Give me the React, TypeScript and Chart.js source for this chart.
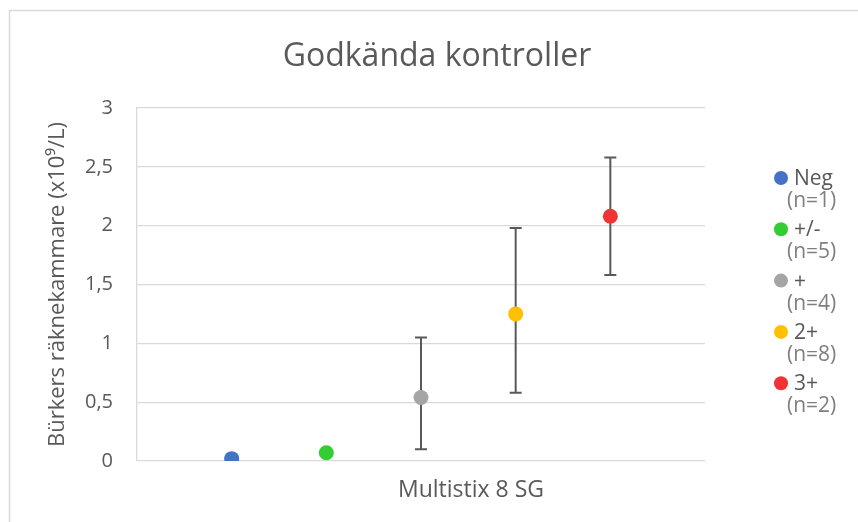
import React, { useEffect, useRef } from "react";
import { Chart, registerables } from "chart.js";

Chart.register(...registerables);

const categories = ["Neg", "+/-", "+", "2+", "3+"];
const counts = [1, 5, 4, 8, 2];
const means = [0.02, 0.07, 0.54, 1.25, 2.08];
const errLow: (number | null)[] = [null, null, 0.1, 0.58, 1.58];
const errHigh: (number | null)[] = [null, null, 1.05, 1.98, 2.58];
const colors = ["#4472C4", "#33CC33", "#A5A5A5", "#FFC000", "#F23333"];
const yTicks = [0, 0.5, 1, 1.5, 2, 2.5, 3];
const titleText = "Godkända kontroller";
const xTitle = "Multistix 8 SG";
const yTitle = "Bürkers räknekammare (x10⁹/L)";

const FONT = "'Open Sans', 'Noto Sans', sans-serif";

const extras = {
  id: "extras",
  beforeDatasetsDraw(chart: any) {
    const ctx = chart.ctx;
    const y = chart.scales.y;
    const x = chart.scales.x;
    ctx.save();
    ctx.strokeStyle = "#595959";
    ctx.lineWidth = 2;
    categories.forEach((_, i) => {
      const lo = errLow[i];
      const hi = errHigh[i];
      if (lo == null || hi == null) return;
      const px = x.getPixelForValue(i + 1);
      const pl = y.getPixelForValue(lo);
      const ph = y.getPixelForValue(hi);
      ctx.beginPath();
      ctx.moveTo(px, pl);
      ctx.lineTo(px, ph);
      ctx.moveTo(px - 6, pl);
      ctx.lineTo(px + 6, pl);
      ctx.moveTo(px - 6, ph);
      ctx.lineTo(px + 6, ph);
      ctx.stroke();
    });
    ctx.restore();
  },
  afterDraw(chart: any) {
    const ctx = chart.ctx;
    const area = chart.chartArea;
    ctx.save();
    // outer border
    ctx.strokeStyle = "#D9D9D9";
    ctx.lineWidth = 1.5;
    ctx.strokeRect(9.5, 10.5, chart.width + 20, chart.height + 20);
    // title
    ctx.fillStyle = "#595959";
    ctx.font = `32px ${FONT}`;
    ctx.textAlign = "center";
    ctx.textBaseline = "alphabetic";
    ctx.fillText(titleText, 437, 66);
    // x title
    ctx.font = `23px ${FONT}`;
    ctx.fillText(xTitle, 471, area.bottom + 36);
    // legend
    const lx = area.right + 76;
    categories.forEach((c, i) => {
      const cy = 178 + i * 51.3;
      ctx.fillStyle = colors[i];
      ctx.beginPath();
      ctx.arc(lx, cy, 7, 0, Math.PI * 2);
      ctx.fill();
      ctx.textAlign = "left";
      ctx.textBaseline = "middle";
      ctx.font = `21px ${FONT}`;
      ctx.fillStyle = "#595959";
      ctx.fillText(c, lx + 13, cy + 1);
      ctx.fillStyle = "#7F7F7F";
      ctx.fillText(`(n=${counts[i]})`, lx + 6, cy + 23);
    });
    ctx.restore();
  },
};

export default function App() {
  const ref = useRef<HTMLCanvasElement>(null);
  useEffect(() => {
    if (!ref.current) return;
    const chart = new Chart(ref.current, {
      type: "scatter",
      data: {
        datasets: categories.map((c, i) => ({
          label: c,
          data: [{ x: i + 1, y: means[i] }],
          backgroundColor: colors[i],
          borderColor: colors[i],
          pointRadius: 7.5,
          pointHoverRadius: 7.5,
          borderWidth: 0,
        })),
      },
      plugins: [extras],
      options: {
        animation: false,
        responsive: false,
        maintainAspectRatio: false,
        layout: { padding: { left: 8, top: 108, right: 153, bottom: 61 } },
        plugins: {
          legend: { display: false },
          title: { display: false },
          tooltip: { enabled: false },
        },
        scales: {
          x: {
            type: "linear",
            min: 0,
            max: 6,
            display: false,
          },
          y: {
            min: 0,
            max: 3,
            afterFit: (s: any) => {
              s.width = 129;
            },
            afterBuildTicks: (s: any) => {
              s.ticks = yTicks.map((v) => ({ value: v }));
            },
            ticks: {
              padding: 24,
              color: "#595959",
              font: { family: FONT, size: 20 },
              callback: (v: any) => String(v).replace(".", ","),
            },
            grid: { color: "#D9D9D9", lineWidth: 1.3, drawTicks: false },
            border: { display: true, color: "#D9D9D9", width: 1.3 },
            title: {
              display: true,
              text: yTitle,
              color: "#595959",
              font: { family: FONT, size: 22 },
              padding: { top: 37, bottom: 0 },
            },
          },
        },
      },
    });
    return () => chart.destroy();
  }, []);
  return (
    <div style={{ position: "fixed", left: 0, top: 0, width: 858, height: 522, background: "#fff" }}>
      <canvas ref={ref} width={858} height={522} style={{ width: 858, height: 522 }} />
    </div>
  );
}
